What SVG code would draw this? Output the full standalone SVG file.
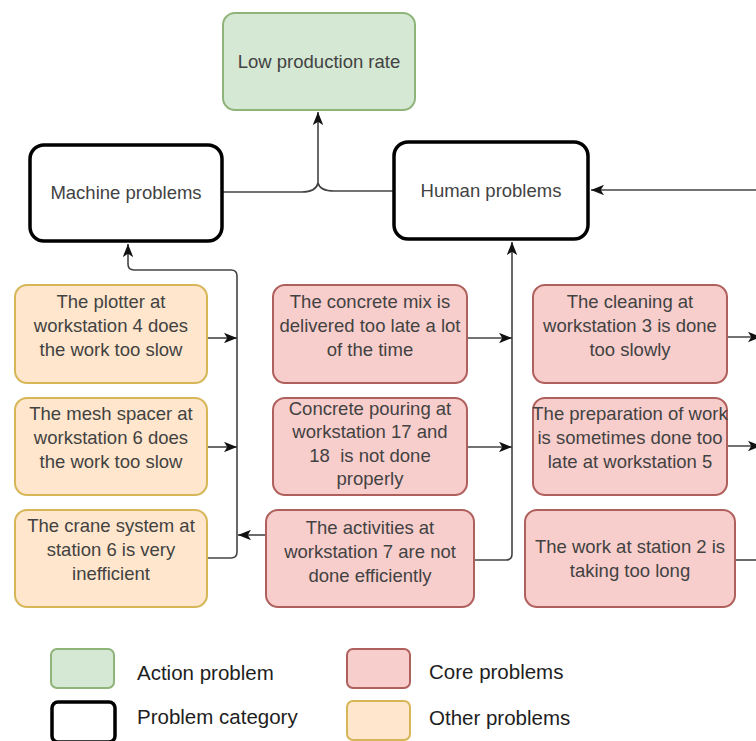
<svg xmlns="http://www.w3.org/2000/svg" width="756" height="741" viewBox="0 0 756 741">
<style>
  .t { font-family: "Liberation Sans", Arial, sans-serif; font-size: 18.5px; fill: #424242; text-anchor: middle; }
  .lg { font-family: "Liberation Sans", Arial, sans-serif; font-size: 20.5px; fill: #1e1e1e; }
  .green { fill: #d5e8d4; stroke: #8fb47a; stroke-width: 2; }
  .cat { fill: #ffffff; stroke: #000000; stroke-width: 3.5; }
  .red { fill: #f8cecc; stroke: #b0605c; stroke-width: 2; }
  .org { fill: #ffe6cc; stroke: #d6b656; stroke-width: 2; }
  .ln { fill: none; stroke: #444444; stroke-width: 1.6; }
</style>
<defs>
  <marker id="arr" viewBox="0 0 10 8" refX="10" refY="4" markerWidth="13" markerHeight="10.5" orient="auto" markerUnits="userSpaceOnUse">
    <path d="M0,0 L10,4 L0,8 L2.5,4 z" fill="#111111"/>
  </marker>
</defs>

<g id="connectors">
  <path class="ln" d="M222,192 H302 Q316,192 318,183" />
  <path class="ln" d="M393,191 H334 Q320,191 318,183" />
  <path class="ln" d="M318,183 V112" marker-end="url(#arr)" />
  <path class="ln" d="M756,190 H591" marker-end="url(#arr)" />
  <path class="ln" d="M207,558 H231 Q237,558 237,552 V276 Q237,270 231,270 H134 Q128,270 128,264 V244" marker-end="url(#arr)" />
  <path class="ln" d="M207,338 H237" marker-end="url(#arr)" />
  <path class="ln" d="M207,447 H237" marker-end="url(#arr)" />
  <path class="ln" d="M266,535 H238" marker-end="url(#arr)" />
  <path class="ln" d="M474,560 H506 Q512,560 512,554 V242" marker-end="url(#arr)" />
  <path class="ln" d="M467,338 H512" marker-end="url(#arr)" />
  <path class="ln" d="M467,447 H512" marker-end="url(#arr)" />
  <path class="ln" d="M727,337 H761" marker-end="url(#arr)" />
  <path class="ln" d="M727,446 H761" marker-end="url(#arr)" />
  <path class="ln" d="M735,560 H756" />
</g>

<g id="low">
  <rect class="green" x="223" y="13" width="192" height="97" rx="12"/>
  <text class="t" x="319" y="68">Low production rate</text>
</g>
<g id="machine">
  <rect class="cat" x="30" y="145" width="192" height="96" rx="14"/>
  <text class="t" x="126" y="199">Machine problems</text>
</g>
<g id="human">
  <rect class="cat" x="394" y="142" width="194" height="97" rx="14"/>
  <text class="t" x="491" y="197">Human problems</text>
</g>

<g id="plotter">
  <rect class="org" x="15" y="285" width="192" height="98" rx="12"/>
  <text class="t" x="111" y="308">The plotter at</text>
  <text class="t" x="111" y="332">workstation 4 does</text>
  <text class="t" x="111" y="356">the work too slow</text>
</g>
<g id="mesh">
  <rect class="org" x="15" y="398" width="192" height="97" rx="12"/>
  <text class="t" x="111" y="420">The mesh spacer at</text>
  <text class="t" x="111" y="444">workstation 6 does</text>
  <text class="t" x="111" y="468">the work too slow</text>
</g>
<g id="crane">
  <rect class="org" x="15" y="510" width="192" height="97" rx="12"/>
  <text class="t" x="111" y="532">The crane system at</text>
  <text class="t" x="111" y="556">station 6 is very</text>
  <text class="t" x="111" y="580">inefficient</text>
</g>

<g id="mix">
  <rect class="red" x="273" y="285" width="194" height="98" rx="12"/>
  <text class="t" x="370" y="308">The concrete mix is</text>
  <text class="t" x="370" y="332">delivered too late a lot</text>
  <text class="t" x="370" y="356">of the time</text>
</g>
<g id="pouring">
  <rect class="red" x="273" y="398" width="194" height="97" rx="12"/>
  <text class="t" x="370" y="415">Concrete pouring at</text>
  <text class="t" x="370" y="438">workstation 17 and</text>
  <text class="t" x="370" y="462" xml:space="preserve">18  is not done</text>
  <text class="t" x="370" y="485">properly</text>
</g>
<g id="activities">
  <rect class="red" x="266" y="510" width="208" height="97" rx="12"/>
  <text class="t" x="370" y="534">The activities at</text>
  <text class="t" x="370" y="558">workstation 7 are not</text>
  <text class="t" x="370" y="582">done efficiently</text>
</g>

<g id="cleaning">
  <rect class="red" x="533" y="285" width="194" height="98" rx="12"/>
  <text class="t" x="630" y="308">The cleaning at</text>
  <text class="t" x="630" y="332">workstation 3 is done</text>
  <text class="t" x="630" y="356">too slowly</text>
</g>
<g id="preparation">
  <rect class="red" x="533" y="398" width="194" height="97" rx="12"/>
  <text class="t" x="630" y="420">The preparation of work</text>
  <text class="t" x="630" y="444">is sometimes done too</text>
  <text class="t" x="630" y="468">late at workstation 5</text>
</g>
<g id="station2">
  <rect class="red" x="525" y="510" width="210" height="97" rx="12"/>
  <text class="t" x="630" y="553">The work at station 2 is</text>
  <text class="t" x="630" y="577">taking too long</text>
</g>

<g id="legend">
  <rect class="green" x="51" y="649" width="63" height="39" rx="6"/>
  <text class="lg" x="137" y="680">Action problem</text>
  <rect class="cat" x="52" y="702" width="63" height="40" rx="6"/>
  <text class="lg" x="137" y="724">Problem category</text>
  <rect class="red" x="347" y="649" width="63" height="39" rx="6"/>
  <text class="lg" x="429" y="679">Core problems</text>
  <rect class="org" x="347" y="701" width="63" height="39" rx="6"/>
  <text class="lg" x="429" y="725">Other problems</text>
</g>
</svg>
